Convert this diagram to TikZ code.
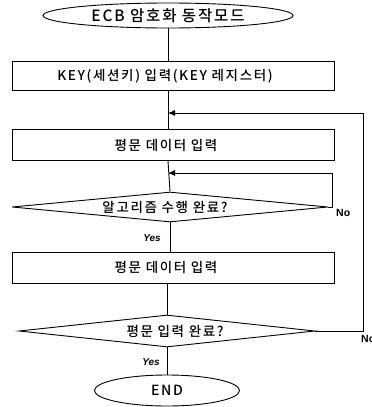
\documentclass[tikz,border=0pt]{standalone}
\usepackage{fontspec}
\setmainfont{Noto Sans CJK KR}[UprightFont=* Medium, LetterSpace=12]
\newfontfamily\latfont{Liberation Sans}
\usetikzlibrary{shapes.geometric,arrows.meta}
\tikzset{
  flow/.style={line width=0.9pt},
  term/.style={draw, ellipse, line width=0.9pt, inner sep=0pt},
  stepbox/.style={draw, rectangle, line width=0.9pt, minimum width=322pt, minimum height=29pt, inner sep=0pt, font=\fontsize{13.5}{15}\selectfont},
  decide/.style={draw, diamond, line width=0.9pt, inner sep=0pt, font=\fontsize{13.5}{15}\selectfont},
  lbl/.style={font=\latfont\bfseries\fontsize{10.5}{12}\selectfont, inner sep=0pt},
  arr/.style={flow, -{Latex[length=7pt,width=6pt]}}
}
\begin{document}
\begin{tikzpicture}[x=1pt,y=-1pt]
\useasboundingbox (0,0) rectangle (372,407);
\node[term, minimum width=250pt, minimum height=25pt, font=\fontsize{15.5}{17}\selectfont] (start) at (168,15.5) {ECB 암호화 동작모드};
\node[stepbox] (key) at (173,76) {\hspace*{-16pt}KEY(세션키) 입력(KEY 레지스터)};
\node[stepbox, minimum height=31pt] (p1) at (173,145) {\hspace*{-14pt}평문 데이터 입력};
\node[decide, aspect=10.5, minimum width=316pt, minimum height=30pt] (d1) at (170,207) {\hspace*{-10pt}알고리즘 수행 완료?};
\node[stepbox, minimum height=31pt] (p2) at (173,267.5) {\hspace*{-14pt}평문 데이터 입력};
\node[decide, aspect=9.25, minimum width=296pt, minimum height=32pt] (d2) at (167,331) {\hspace*{16pt}평문 입력 완료?};
\node[term, minimum width=145pt, minimum height=31pt, font=\fontsize{14}{16}\selectfont] (endn) at (167,390.5) {END};

\coordinate (j1) at (168,113);
\coordinate (r1) at (363,113);
\coordinate (r2) at (363,331);
\coordinate (j2) at (168,173);
\coordinate (s1) at (332,173);
\coordinate (s2) at (332,207);

\draw[flow] (start.south) -- (start.south |- key.north);
\draw[flow] (start.south |- key.south) -- (start.south |- p1.north);
\draw[flow] (start.south |- p1.south) -- (d1.north);
\draw[flow] (d1.south) -- (d1.south |- p2.north);
\draw[flow] (d2.north |- p2.south) -- (d2.north);
\draw[flow] (d2.south) -- (endn.north);

\draw[flow] (d1.east) -- (s2) -- (s1);
\draw[arr] (s1) -- (j2);
\draw[flow] (d2.east) -- (r2) -- (r1);
\draw[arr] (r1) -- (j1);

\node[lbl, anchor=west] (no1) at (336,213) {No};
\node[lbl, anchor=west] (no2) at (361,339) {No};
\node[lbl, anchor=east, font=\latfont\bfseries\itshape\fontsize{10}{12}\selectfont] (yes1) at (161,238) {Yes};
\node[lbl, anchor=east, font=\latfont\bfseries\itshape\fontsize{10}{12}\selectfont] (yes2) at (160,362) {Yes};
\end{tikzpicture}
\end{document}
